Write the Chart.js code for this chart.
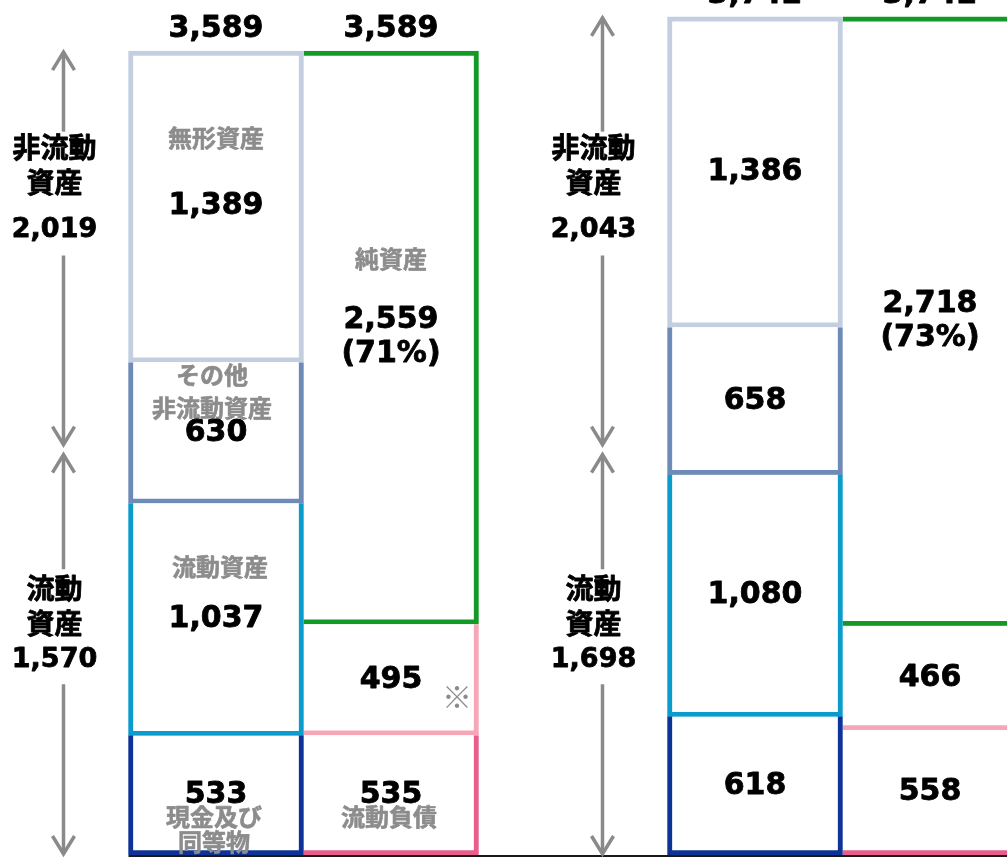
<!DOCTYPE html>
<html lang="ja">
<head>
<meta charset="utf-8">
<title>財政状態計算書</title>
<script src="https://cdn.jsdelivr.net/npm/chart.js@4.4.1/dist/chart.umd.min.js"></script>
<style>
    html, body { margin: 0; padding: 0; background: #ffffff; }
    #wrap { width: 1007px; height: 858px; overflow: hidden; position: relative; }
    #bs-chart { display: block; }
</style>
</head>
<body>
<div id="wrap">
    <canvas id="bs-chart" width="1112" height="858"></canvas>
</div>
<script>
// 期末ごとの内訳（億円）
const periods = ['前期末', '当期末'];
const cashValues = [533, 618];
const currentOtherValues = [1037, 1080];
const otherNonCurrentValues = [630, 658];
const intangibleValues = [1389, 1386];
const currentLiabValues = [535, 558];
const otherLiabValues = [495, 466];
const netAssetValues = [2559, 2718];
const netAssetRatios = ['71%', '73%'];
const totalAssetLabels = ['3,589', '3,742'];
const currentAssetLabels = ['1,570', '1,698'];
const nonCurrentAssetLabels = ['2,019', '2,043'];

// 矢印の区切りと区分名の位置（値）
const arrowSplitValue = 1810;
const upperCaptionValue = 2975;
const lowerCaptionValue = 1030;

const NUM_FONT = 'bold 30px "DejaVu Sans", "Noto Sans CJK JP"';
const SIDE_JP_FONT = 'bold 28px "Noto Sans CJK JP"';
const SIDE_NUM_FONT = 'bold 27px "DejaVu Sans"';
const GRAY_FONT = 'bold 24px "Noto Sans CJK JP"';
const GRAY = '#8c8c8c';
const ARROW_GRAY = '#8a8a8a';

const BW = 5;
function assetBorder(isTop) {
    return { top: isTop ? BW : 0, left: BW, right: BW, bottom: BW };
}
function liabBorder(isTop) {
    return { top: isTop ? BW : 0, left: 0, right: BW, bottom: BW };
}

function makeSet(label, data, stack, color, border) {
    return {
        label: label,
        data: data,
        stack: stack,
        backgroundColor: '#ffffff',
        borderColor: color,
        borderWidth: border,
        borderSkipped: false
    };
}

const datasets = [
    makeSet('現金及び同等物', cashValues, 'assets', '#0d3398', assetBorder(false)),
    makeSet('流動資産', currentOtherValues, 'assets', '#0a9ccc', assetBorder(false)),
    makeSet('その他非流動資産', otherNonCurrentValues, 'assets', '#6e8bb8', assetBorder(false)),
    makeSet('無形資産', intangibleValues, 'assets', '#c3cfe1', assetBorder(true)),
    makeSet('流動負債', currentLiabValues, 'liab', '#e85c8e', liabBorder(false)),
    makeSet('その他負債', otherLiabValues, 'liab', '#f7a6b7', liabBorder(false)),
    makeSet('純資産', netAssetValues, 'liab', '#129a26', liabBorder(true))
];

// 左側の期にだけ付ける科目名（箱の中心からのずれ）
const segmentCaptions = {
    0: { lines: ['現金及び', '同等物'], dx: -2, dy: [22, 47] },
    1: { lines: ['流動資産'], dx: 4, dy: [-53] },
    2: { lines: ['その他', '非流動資産'], dx: -4, dy: [-58, -25] },
    3: { lines: ['無形資産'], dx: 0, dy: [-69] },
    4: { lines: ['流動負債'], dx: -2, dy: [22] },
    6: { lines: ['純資産'], dx: 0, dy: [-79] }
};

// 文字を少し太く見せる
function heavyText(ctx, text, x, y, weight) {
    ctx.lineWidth = weight;
    ctx.strokeStyle = ctx.fillStyle;
    ctx.lineJoin = 'round';
    ctx.strokeText(text, x, y);
    ctx.fillText(text, x, y);
}

function drawHead(ctx, x, y, dir) {
    ctx.beginPath();
    ctx.moveTo(x - 11, y - dir * 18);
    ctx.lineTo(x, y);
    ctx.lineTo(x + 11, y - dir * 18);
    ctx.stroke();
}

function drawLine(ctx, x, y1, y2) {
    ctx.beginPath();
    ctx.moveTo(x, y1);
    ctx.lineTo(x, y2);
    ctx.stroke();
}

function drawLines(ctx, lines, fonts, x, cy, offsets) {
    lines.forEach((t, k) => {
        ctx.font = fonts[k];
        heavyText(ctx, t, x, cy + offsets[k], 0.8);
    });
}

const balanceLabels = {
    id: 'balanceLabels',
    afterDatasetsDraw(chart) {
        const ctx = chart.ctx;
        const yScale = chart.scales.y;
        const metas = chart.data.datasets.map((d, i) => chart.getDatasetMeta(i));
        ctx.save();
        ctx.textAlign = 'center';
        ctx.textBaseline = 'middle';

        // 基準線
        const firstBar = metas[0].data[0];
        const baseY = yScale.getPixelForValue(0);
        ctx.strokeStyle = '#1a1a1a';
        ctx.lineWidth = 2;
        ctx.beginPath();
        ctx.moveTo(firstBar.x - firstBar.width / 2, baseY + 1);
        ctx.lineTo(chart.width, baseY + 1);
        ctx.stroke();

        // 科目名（灰色）
        ctx.fillStyle = GRAY;
        ctx.font = GRAY_FONT;
        Object.keys(segmentCaptions).forEach(key => {
            const cap = segmentCaptions[key];
            const bar = metas[key].data[0];
            const cy = (bar.y + bar.base) / 2;
            cap.lines.forEach((t, k) => heavyText(ctx, t, bar.x + cap.dx, cy + cap.dy[k], 0.6));
        });
        const noteBar = metas[5].data[0];
        ctx.font = '30px "Noto Sans CJK JP"';
        ctx.fillText('※', noteBar.x + 66, (noteBar.y + noteBar.base) / 2 + 17);

        // 各箱の金額
        ctx.fillStyle = '#000000';
        ctx.font = NUM_FONT;
        metas.forEach((meta, di) => {
            meta.data.forEach((bar, i) => {
                const value = chart.data.datasets[di].data[i];
                const cy = (bar.y + bar.base) / 2;
                if (di === 6) {
                    heavyText(ctx, value.toLocaleString('en-US'), bar.x, cy - 17, 0.8);
                    heavyText(ctx, '(' + netAssetRatios[i] + ')', bar.x, cy + 17, 0.8);
                } else {
                    heavyText(ctx, value.toLocaleString('en-US'), bar.x, cy, 0.8);
                }
            });
        });

        // 合計（列の上）
        periods.forEach((p, i) => {
            [metas[3].data[i], metas[6].data[i]].forEach(bar => {
                heavyText(ctx, totalAssetLabels[i], bar.x, bar.y - 22, 0.8);
            });
        });

        // 左側の矢印と区分
        periods.forEach((p, i) => {
            const cash = metas[0].data[i];
            const left = cash.x - cash.width / 2;
            const ax = left - 65;
            const tx = left - 74;
            const topY = metas[3].data[i].y;
            const splitY = yScale.getPixelForValue(arrowSplitValue);
            const upperC = yScale.getPixelForValue(upperCaptionValue);
            const lowerC = yScale.getPixelForValue(lowerCaptionValue);

            ctx.strokeStyle = ARROW_GRAY;
            ctx.lineWidth = 3.5;
            ctx.lineCap = 'butt';
            ctx.lineJoin = 'miter';
            drawLine(ctx, ax, topY + 1, upperC - 57);
            drawLine(ctx, ax, upperC + 67, splitY - 6);
            drawHead(ctx, ax, topY + 1, -1);
            drawHead(ctx, ax, splitY - 5, 1);
            drawLine(ctx, ax, splitY + 6, lowerC - 55);
            drawLine(ctx, ax, lowerC + 60, baseY - 1);
            drawHead(ctx, ax, splitY + 5, -1);
            drawHead(ctx, ax, baseY - 1, 1);

            ctx.fillStyle = '#000000';
            drawLines(ctx, ['非流動', '資産', nonCurrentAssetLabels[i]],
                [SIDE_JP_FONT, SIDE_JP_FONT, SIDE_NUM_FONT], tx, upperC, [-41, -6, 41]);
            drawLines(ctx, ['流動', '資産', currentAssetLabels[i]],
                [SIDE_JP_FONT, SIDE_JP_FONT, SIDE_NUM_FONT], tx, lowerC, [-36, -1, 36]);
        });
        ctx.restore();
    }
};

const ctx = document.getElementById('bs-chart').getContext('2d');
new Chart(ctx, {
    type: 'bar',
    data: { labels: periods, datasets: datasets },
    options: {
        responsive: false,
        animation: false,
        devicePixelRatio: 1,
        layout: { padding: { left: 34, right: 0, top: 0, bottom: 3 } },
        datasets: { bar: { barThickness: 175 } },
        plugins: {
            legend: { display: false },
            tooltip: { enabled: false }
        },
        scales: {
            x: { display: false, stacked: true },
            y: { display: false, stacked: true, min: 0, max: 3817 }
        }
    },
    plugins: [balanceLabels]
});
</script>
</body>
</html>
